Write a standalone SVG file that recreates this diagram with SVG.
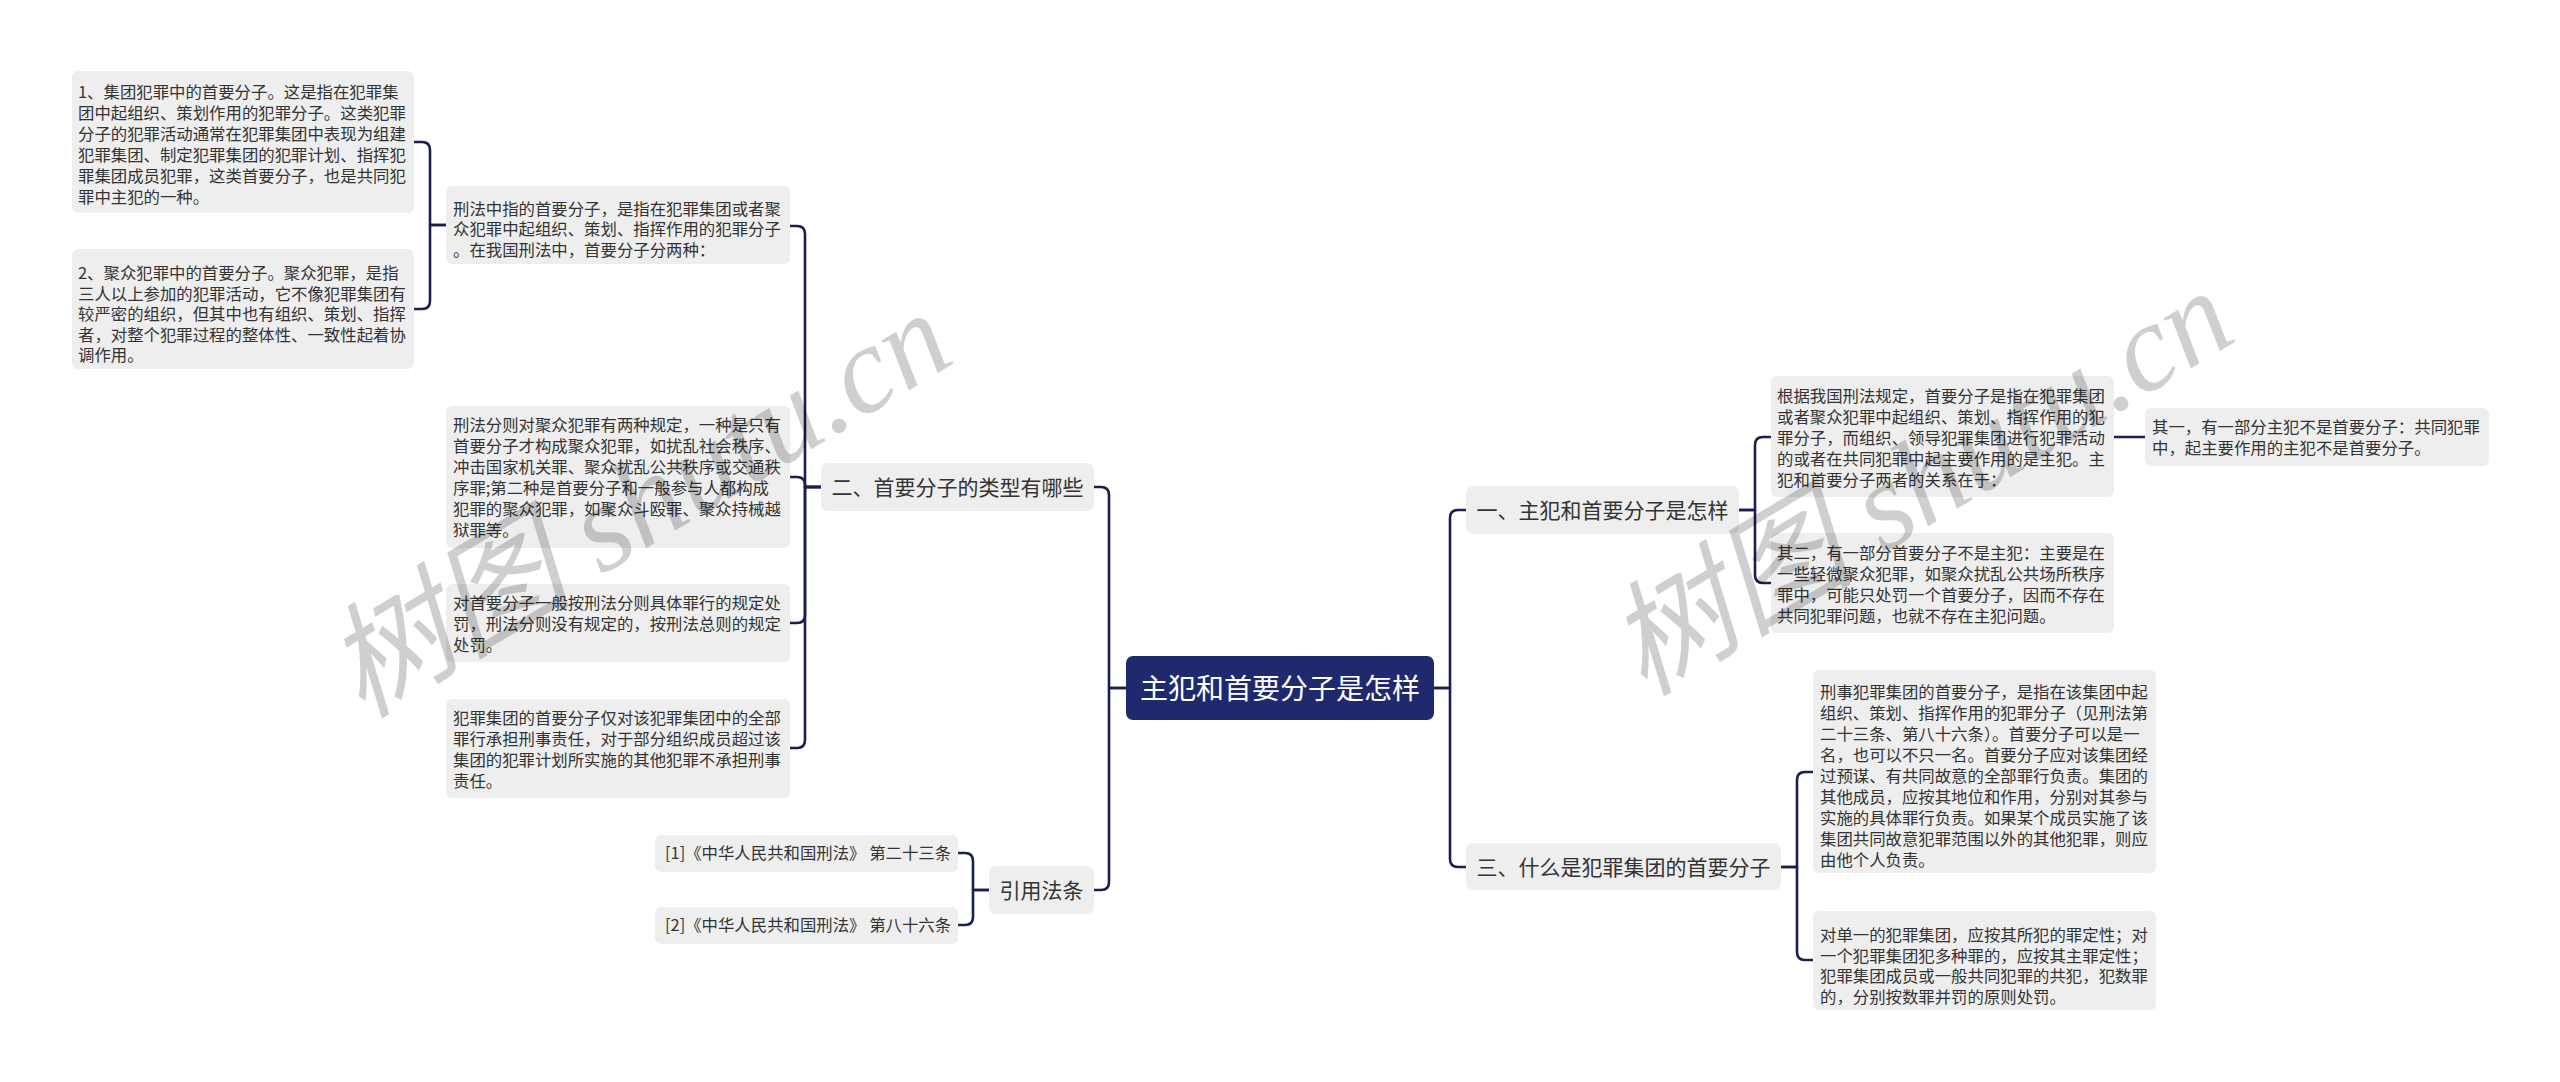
<svg xmlns="http://www.w3.org/2000/svg" width="2560" height="1082" viewBox="0 0 2560 1082">
<style>
.bg{fill:#ffffff}
.box{fill:#eeeeee}
.root{fill:#1f2a6e}
.t{font-family:"Noto Sans CJK SC","Noto Sans",sans-serif;font-size:16.4px;fill:#333333}
.m{font-family:"Noto Sans CJK SC","Noto Sans",sans-serif;font-size:21px;fill:#333333;text-anchor:middle}
.r{font-family:"Noto Sans CJK SC","Noto Sans",sans-serif;font-size:28px;fill:#ffffff;text-anchor:middle}
.c{fill:none;stroke:#1a1f4d;stroke-width:2.6;stroke-linecap:round;stroke-linejoin:round}
.wm{font-family:"Liberation Serif","Noto Sans CJK SC",serif;font-style:italic;font-size:124px;fill:#000000;fill-opacity:0.19;text-anchor:middle}
</style>
<rect class="bg" x="0" y="0" width="2560" height="1082"/>

<g id="connectors">
<path class="c" d="M446,225 H430 V150 Q430,142 422,142 H414"/>
<path class="c" d="M446,225 H430 V301 Q430,309 422,309 H414"/>
<path class="c" d="M821,487 H805 V234 Q805,226 797,226 H790"/>
<path class="c" d="M821,487 H805 V485 Q805,477 797,477 H790"/>
<path class="c" d="M821,487 H805 V615 Q805,623 797,623 H790"/>
<path class="c" d="M821,487 H805 V740 Q805,748 797,748 H790"/>
<path class="c" d="M1126,688 H1109 V495 Q1109,487 1101,487 H1094"/>
<path class="c" d="M1126,688 H1109 V882 Q1109,890 1101,890 H1094"/>
<path class="c" d="M989,890 H973 V861 Q973,853 965,853 H958"/>
<path class="c" d="M989,890 H973 V917 Q973,925 965,925 H958"/>
<path class="c" d="M1434,688 H1450 V518 Q1450,510 1458,510 H1466"/>
<path class="c" d="M1434,688 H1450 V859 Q1450,867 1458,867 H1466"/>
<path class="c" d="M1739,510 H1755 V445 Q1755,437 1763,437 H1771"/>
<path class="c" d="M1739,510 H1755 V575 Q1755,583 1763,583 H1771"/>
<path class="c" d="M2114,437 H2145"/>
<path class="c" d="M1781,867 H1797 V780 Q1797,772 1805,772 H1813"/>
<path class="c" d="M1781,867 H1797 V952 Q1797,960 1805,960 H1813"/>
</g>

<g id="root">
<rect class="root" x="1126" y="656" width="308" height="64" rx="7"/>
<text class="r" x="1280" y="698.5">主犯和首要分子是怎样</text>
</g>

<g id="n-er">
<rect class="box" x="821" y="463" width="273" height="48" rx="7"/>
<text class="m" x="957.5" y="495">二、首要分子的类型有哪些</text>
</g>

<g id="n-yinyong">
<rect class="box" x="989" y="866" width="105" height="48" rx="7"/>
<text class="m" x="1041.5" y="898">引用法条</text>
</g>

<g id="n-yi">
<rect class="box" x="1466" y="486" width="273" height="48" rx="7"/>
<text class="m" x="1602.5" y="518">一、主犯和首要分子是怎样</text>
</g>

<g id="n-san">
<rect class="box" x="1466" y="843" width="315" height="47" rx="7"/>
<text class="m" x="1623.5" y="874.5">三、什么是犯罪集团的首要分子</text>
</g>

<g id="n-xingfa-zhong">
<rect class="box" x="446" y="186" width="344" height="78" rx="6"/>
<text class="t" x="453"><tspan x="453" y="214.7">刑法中指的首要分子，是指在犯罪集团或者聚</tspan><tspan x="453" y="235.2">众犯罪中起组织、策划、指挥作用的犯罪分子</tspan><tspan x="453" y="255.7">。在我国刑法中，首要分子分两种：</tspan></text>
</g>

<g id="n-jituan">
<rect class="box" x="72" y="71" width="342" height="142" rx="6"/>
<text class="t"><tspan x="78" y="97.9">1、集团犯罪中的首要分子。这是指在犯罪集</tspan><tspan x="78" y="118.9">团中起组织、策划作用的犯罪分子。这类犯罪</tspan><tspan x="78" y="139.9">分子的犯罪活动通常在犯罪集团中表现为组建</tspan><tspan x="78" y="160.9">犯罪集团、制定犯罪集团的犯罪计划、指挥犯</tspan><tspan x="78" y="181.9">罪集团成员犯罪，这类首要分子，也是共同犯</tspan><tspan x="78" y="202.9">罪中主犯的一种。</tspan></text>
</g>

<g id="n-juzhong">
<rect class="box" x="72" y="249" width="342" height="120" rx="6"/>
<text class="t"><tspan x="78" y="279.2">2、聚众犯罪中的首要分子。聚众犯罪，是指</tspan><tspan x="78" y="299.7">三人以上参加的犯罪活动，它不像犯罪集团有</tspan><tspan x="78" y="320.2">较严密的组织，但其中也有组织、策划、指挥</tspan><tspan x="78" y="340.7">者，对整个犯罪过程的整体性、一致性起着协</tspan><tspan x="78" y="361.2">调作用。</tspan></text>
</g>

<g id="n-fenze">
<rect class="box" x="446" y="406" width="344" height="142" rx="6"/>
<text class="t"><tspan x="453" y="431.2">刑法分则对聚众犯罪有两种规定，一种是只有</tspan><tspan x="453" y="452.2">首要分子才构成聚众犯罪，如扰乱社会秩序、</tspan><tspan x="453" y="473.2">冲击国家机关罪、聚众扰乱公共秩序或交通秩</tspan><tspan x="453" y="494.2">序罪;第二种是首要分子和一般参与人都构成</tspan><tspan x="453" y="515.2">犯罪的聚众犯罪，如聚众斗殴罪、聚众持械越</tspan><tspan x="453" y="536.2">狱罪等。</tspan></text>
</g>

<g id="n-chufa">
<rect class="box" x="446" y="584" width="344" height="78" rx="6"/>
<text class="t"><tspan x="453" y="609.2">对首要分子一般按刑法分则具体罪行的规定处</tspan><tspan x="453" y="630.2">罚，刑法分则没有规定的，按刑法总则的规定</tspan><tspan x="453" y="651.2">处罚。</tspan></text>
</g>

<g id="n-zeren">
<rect class="box" x="446" y="699" width="344" height="99" rx="6"/>
<text class="t"><tspan x="453" y="724.2">犯罪集团的首要分子仅对该犯罪集团中的全部</tspan><tspan x="453" y="745.2">罪行承担刑事责任，对于部分组织成员超过该</tspan><tspan x="453" y="766.2">集团的犯罪计划所实施的其他犯罪不承担刑事</tspan><tspan x="453" y="787.2">责任。</tspan></text>
</g>

<g id="n-ref1">
<rect class="box" x="655" y="835" width="303" height="37" rx="6"/>
<text class="t" x="665" y="859.2">[1]《中华人民共和国刑法》 第二十三条</text>
</g>

<g id="n-ref2">
<rect class="box" x="655" y="907" width="303" height="37" rx="6"/>
<text class="t" x="665" y="931.2">[2]《中华人民共和国刑法》 第八十六条</text>
</g>

<g id="n-genju">
<rect class="box" x="1771" y="376" width="343" height="121" rx="6"/>
<text class="t"><tspan x="1777" y="402.2">根据我国刑法规定，首要分子是指在犯罪集团</tspan><tspan x="1777" y="423.2">或者聚众犯罪中起组织、策划、指挥作用的犯</tspan><tspan x="1777" y="444.2">罪分子，而组织、领导犯罪集团进行犯罪活动</tspan><tspan x="1777" y="465.2">的或者在共同犯罪中起主要作用的是主犯。主</tspan><tspan x="1777" y="486.2">犯和首要分子两者的关系在于：</tspan></text>
</g>

<g id="n-qiyi">
<rect class="box" x="2145" y="408" width="344" height="58" rx="6"/>
<text class="t"><tspan x="2152" y="433.2">其一，有一部分主犯不是首要分子：共同犯罪</tspan><tspan x="2152" y="454.2">中，起主要作用的主犯不是首要分子。</tspan></text>
</g>

<g id="n-qier">
<rect class="box" x="1771" y="533" width="343" height="100" rx="6"/>
<text class="t"><tspan x="1777" y="559.2">其二，有一部分首要分子不是主犯：主要是在</tspan><tspan x="1777" y="580.2">一些轻微聚众犯罪，如聚众扰乱公共场所秩序</tspan><tspan x="1777" y="601.2">罪中，可能只处罚一个首要分子，因而不存在</tspan><tspan x="1777" y="622.2">共同犯罪问题，也就不存在主犯问题。</tspan></text>
</g>

<g id="n-xingshi">
<rect class="box" x="1813" y="670" width="343" height="203" rx="6"/>
<text class="t"><tspan x="1820" y="698.2">刑事犯罪集团的首要分子，是指在该集团中起</tspan><tspan x="1820" y="719.2">组织、策划、指挥作用的犯罪分子（见刑法第</tspan><tspan x="1820" y="740.2">二十三条、第八十六条）。首要分子可以是一</tspan><tspan x="1820" y="761.2">名，也可以不只一名。首要分子应对该集团经</tspan><tspan x="1820" y="782.2">过预谋、有共同故意的全部罪行负责。集团的</tspan><tspan x="1820" y="803.2">其他成员，应按其地位和作用，分别对其参与</tspan><tspan x="1820" y="824.2">实施的具体罪行负责。如果某个成员实施了该</tspan><tspan x="1820" y="845.2">集团共同故意犯罪范围以外的其他犯罪，则应</tspan><tspan x="1820" y="866.2">由他个人负责。</tspan></text>
</g>

<g id="n-danyi">
<rect class="box" x="1813" y="911" width="343" height="99" rx="6"/>
<text class="t"><tspan x="1820" y="941.2">对单一的犯罪集团，应按其所犯的罪定性；对</tspan><tspan x="1820" y="961.7">一个犯罪集团犯多种罪的，应按其主罪定性；</tspan><tspan x="1820" y="982.2">犯罪集团成员或一般共同犯罪的共犯，犯数罪</tspan><tspan x="1820" y="1002.7">的，分别按数罪并罚的原则处罚。</tspan></text>
</g>

<g id="watermarks">
<text class="wm" transform="translate(660,540) rotate(-31)">树图 shutu.cn</text>
<text class="wm" transform="translate(1942,518) rotate(-31)">树图 shutu.cn</text>
</g>
</svg>
